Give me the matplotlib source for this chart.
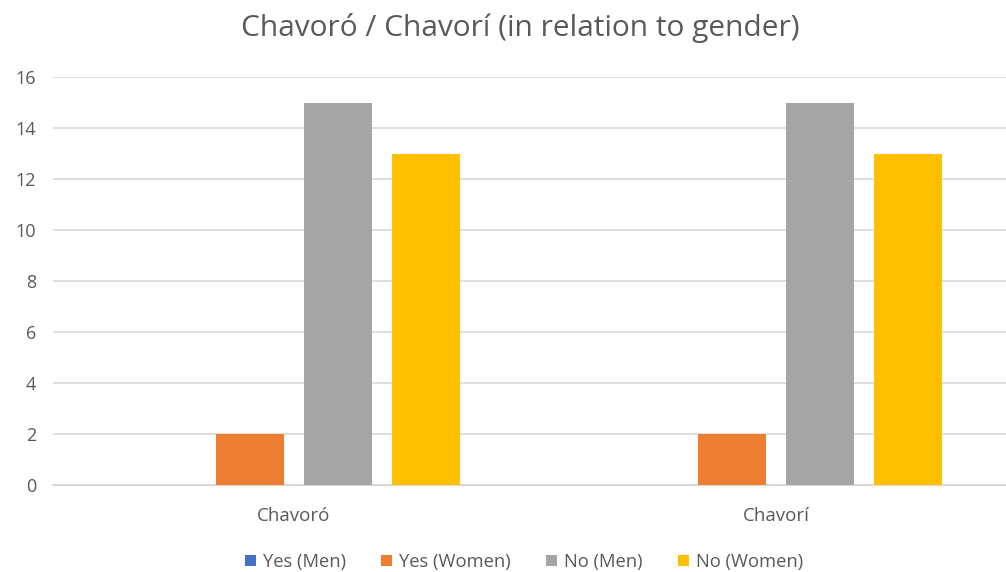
import matplotlib.pyplot as plt
import numpy as np

categories = ["Chavoró", "Chavorí"]
series_names = ["Yes (Men)", "Yes (Women)", "No (Men)", "No (Women)"]
yes_men = [0, 0]
yes_women = [2, 2]
no_men = [15, 15]
no_women = [13, 13]
colors = ["#4472C4", "#ED7D31", "#A5A5A5", "#FFC000"]

plt.rcParams['font.family'] = ['Open Sans', 'DejaVu Sans']
text_color = "#595959"

fig = plt.figure(figsize=(10.06, 5.72), dpi=100)
ax = fig.add_axes([53/1006, 87/572, 964/1006, 408/572])

x = np.arange(len(categories))
slot = 0.1826
width = 0.141
all_series = [yes_men, yes_women, no_men, no_women]
for i, (vals, name, c) in enumerate(zip(all_series, series_names, colors)):
    offs = (i - 1.5) * slot
    ax.bar(x + offs, vals, width, color=c, label=name, zorder=3)

ax.set_xlim(-0.5, 1.5)
ax.set_ylim(0, 16)
ax.set_yticks(range(0, 17, 2))
ax.set_xticks(x)
ax.set_xticklabels(categories, fontsize=13.5)
ax.grid(axis='y', color="#D9D9D9", lw=1.2, zorder=0)
ax.axhline(0, color="#D9D9D9", lw=1.5, zorder=2, clip_on=False)
ax.tick_params(axis='both', length=0, colors=text_color)
ax.tick_params(axis='y', pad=12, labelsize=13)
ax.tick_params(axis='x', pad=16)
for s in ax.spines.values():
    s.set_visible(False)

fig.text(520/1006, 1 - 28/572, "Chavoró / Chavorí (in relation to gender)",
         ha='center', va='center', fontsize=21.5, color=text_color)

leg = fig.legend(loc='center', bbox_to_anchor=(524/1006, 1 - 562/572), ncol=4,
                 frameon=False, fontsize=13.2, handlelength=0.6, handleheight=0.6,
                 handletextpad=0.4, columnspacing=1.9)
for t in leg.get_texts():
    t.set_color(text_color)

fig.savefig("out.png", dpi=100)
